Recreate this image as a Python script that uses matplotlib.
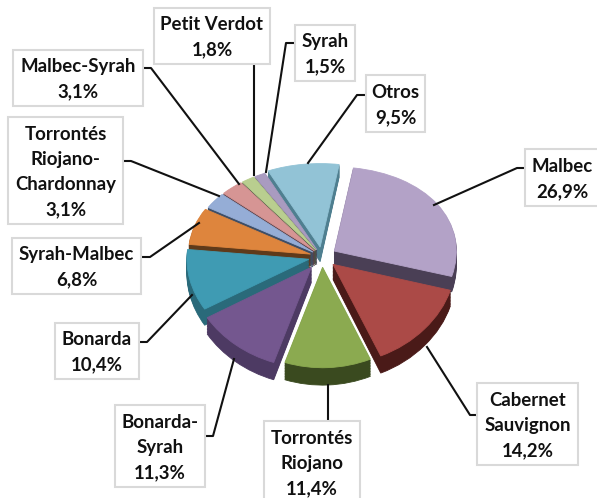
import numpy as np
import matplotlib
matplotlib.use("Agg")
import matplotlib.pyplot as plt
from matplotlib.lines import Line2D
from matplotlib.patches import Rectangle

W, H = 597, 498

categories = ["Malbec", "Cabernet\nSauvignon", "Torrontés\nRiojano", "Bonarda-\nSyrah",
              "Bonarda", "Syrah-Malbec", "Torrontés\nRiojano-\nChardonnay", "Malbec-Syrah",
              "Petit Verdot", "Syrah", "Otros"]
values = [26.9, 14.2, 11.4, 11.3, 10.4, 6.8, 3.1, 3.1, 1.8, 1.5, 9.5]
value_labels = ["26,9%", "14,2%", "11,4%", "11,3%", "10,4%", "6,8%", "3,1%", "3,1%", "1,8%", "1,5%", "9,5%"]
top_colors = ["#B3A2C7", "#AB4A47", "#8BAA50", "#74578F", "#3F9BB3", "#DE853D",
              "#95ADD6", "#D69594", "#B9CE8F", "#A99BC0", "#92C3D6"]
side_colors = ["#4A3F55", "#4A1A18", "#3A4A1F", "#4D3A63", "#2A6A7A", "#5F3A1A",
               "#3E4E66", "#5A4048", "#4A5640", "#4A4458", "#4F7F90"]
explode = [0.12, 0.12, 0.11, 0.14, 0.11, 0.10, 0.09, 0.09, 0.09, 0.09, 0.11]
draw_rank = [6, 8, 10, 9, 7, 5, 4, 3, 2, 1, 0]

# label boxes in pixels: left, top, right, bottom
boxes = [(525, 149, 600, 206), (477, 383, 578, 465), (264, 421, 360, 505), (115, 405, 205, 487),
         (55, 323, 139, 379), (12, 238, 141, 294), (8, 117, 123, 224), (13, 50, 143, 106),
         (154, 8, 270, 64), (295, 25, 355, 81), (366, 75, 425, 132)]
leaders = [[(524, 168), (517, 168), (434, 205)],
           [(475, 415), (470, 415), (427, 347)],
           [(328, 421), (328, 385)],
           [(206, 436), (213, 436), (234, 359)],
           [(140, 342), (147, 342), (192, 295)],
           [(142, 257), (150, 257), (199, 223)],
           [(124, 161), (131, 161), (219, 196)],
           [(144, 68), (151, 68), (239, 184)],
           [(254, 65), (254, 175)],
           [(294, 43), (286, 43), (266, 172)],
           [(365, 95), (357, 95), (308, 163)]]

K = 0.076
def f(y):
    return y - K * y * y
def finv(z):
    return (1 - np.sqrt(np.maximum(1 - 4 * K * z, 0))) / (2 * K)

fig = plt.figure(figsize=(W / 100, H / 100), dpi=100, facecolor="white")
ax = fig.add_axes([0, 0, 1, 1])

CX, CY, RX, RY = 322.0, 257.0, 122.0, 92.0
DEPTH = 0.16
layers = np.linspace(DEPTH, 0, 12)
for n, d in enumerate(layers):
    is_top = n == len(layers) - 1
    wedges, _ = ax.pie(values, explode=explode, startangle=81, counterclock=False,
                       center=(0, -d), radius=1.0,
                       colors=top_colors if is_top else side_colors)
    for i, w in enumerate(wedges):
        w.set_zorder(draw_rank[i] * 100 + n)
        w.set_linewidth(0.6)
        w.set_edgecolor(top_colors[i] if is_top else side_colors[i])

ax.set_aspect("auto")
ax.set_yscale("function", functions=(f, finv))
ax.set_xlim(-CX / RX, (W - CX) / RX)
ax.set_ylim(finv((CY - H) / RY), finv(CY / RY))
ax.axis("off")

def fx(x):
    return x / W
def fy(y):
    return 1 - y / H

for pts in leaders:
    xs, ys = zip(*pts)
    fig.add_artist(Line2D([fx(x) for x in xs], [fy(y) for y in ys], color="#111111",
                          lw=1.5, transform=fig.transFigure, zorder=3))

for cat, lab, (l, t, r, b) in zip(categories, value_labels, boxes):
    fig.add_artist(Rectangle((fx(l), fy(b)), (r - l) / W, (b - t) / H, facecolor="white",
                             edgecolor="#D9D9D9", lw=1.5, transform=fig.transFigure, zorder=4))
    lines = cat.split("\n") + [lab]
    n = len(lines)
    cx = (l + r) / 2
    cy = (t + min(b, t + 6 + 25.3 * n)) / 2 + 1.5
    for k, s in enumerate(lines):
        yy = cy + (k - (n - 1) / 2) * 25.3
        fig.text(fx(cx), fy(yy), s, ha="center", va="center", family="Lato",
                 fontweight="bold", fontsize=13.4, color="#111111", zorder=5)

fig.savefig("out.png", dpi=100)
